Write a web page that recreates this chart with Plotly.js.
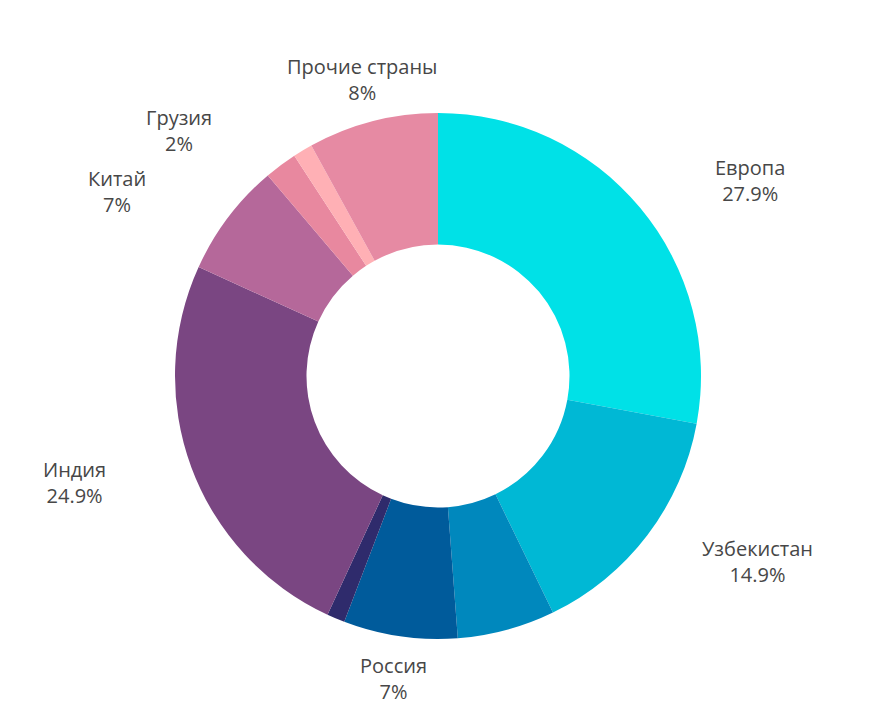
<!DOCTYPE html>
<html>
<head>
<meta charset="utf-8">
<script src="https://cdn.plot.ly/plotly-3.0.1.min.js"></script>
<style>html,body{margin:0;padding:0;background:#fff;}#chart{width:871px;height:720px;}</style>
</head>
<body>
<div id="chart"></div>
<script>
const labels = ["Европа", "Узбекистан", "Казахстан", "Россия", "Прочие СНГ", "Индия", "Китай", "Грузия", "Армения", "Прочие страны"];
const values = [27.9, 14.9, 6.0, 7.0, 1.1, 24.9, 7.0, 2.0, 1.2, 8.0];
const shownLabels = ["Европа", "Узбекистан", "", "Россия", "", "Индия", "Китай", "Грузия", "", "Прочие страны"];
const shownValues = ["27.9%", "14.9%", "", "7%", "", "24.9%", "7%", "2%", "", "8%"];
const colors = ["#00E1E7", "#00B8D5", "#0088BD", "#005B9B", "#2F2B6C", "#7A4682", "#B5689A", "#E8889F", "#FFB0B5", "#E68AA3"];

// label placement: relative to the pie radius (pie radius = 0.5 paper units)
const labelRadius = 0.582;   // distance of label centre from pie centre
const sideShift = 0.145;     // extra horizontal push for side labels

const total = values.reduce((a, b) => a + b, 0);
const annotations = [];
let cum = 0;
values.forEach((v, i) => {
  const mid = (cum + v / 2) / total * 2 * Math.PI;
  cum += v;
  if (!shownLabels[i]) return;
  const s = Math.sin(mid), c = Math.cos(mid);
  const shift = Math.abs(s) > 0.4 ? Math.sign(s) * sideShift : 0;
  annotations.push({
    xref: "paper", yref: "paper",
    x: 0.5 + labelRadius * s + shift,
    y: 0.5 + labelRadius * c,
    text: shownLabels[i] + "<br>" + shownValues[i],
    showarrow: false,
    xanchor: "center", yanchor: "middle", align: "center",
    font: {family: "Open Sans", size: 20, color: "#474747"}
  });
});

Plotly.newPlot("chart", [{
  type: "pie",
  labels: labels,
  values: values,
  textinfo: "none",
  sort: false,
  direction: "clockwise",
  rotation: 0,
  hole: 0.5,
  marker: {colors: colors, line: {width: 0}},
  hoverinfo: "none",
  showlegend: false
}], {
  width: 871, height: 720,
  margin: {l: 175, r: 170, t: 113, b: 81},
  paper_bgcolor: "#fff",
  showlegend: false,
  annotations: annotations
}, {displayModeBar: false, staticPlot: true});
</script>
</body>
</html>
